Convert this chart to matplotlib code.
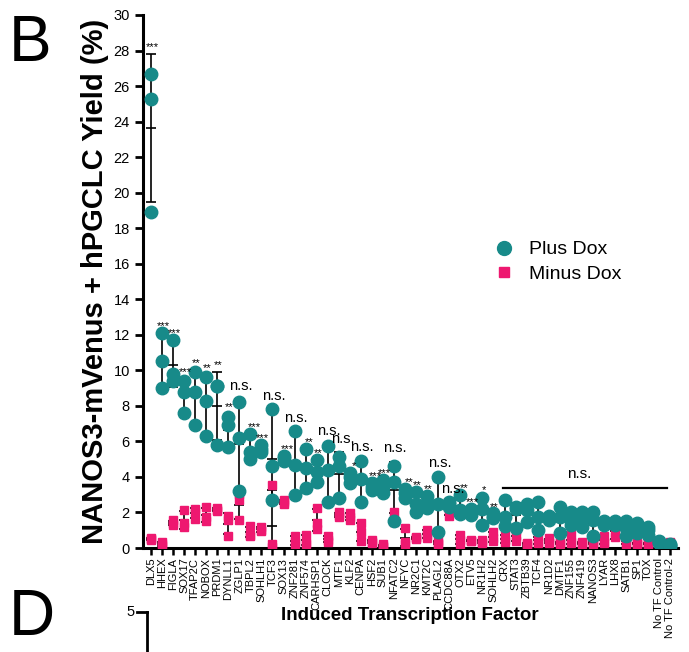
import numpy as np
import matplotlib.pyplot as plt
from matplotlib.lines import Line2D

plt.rcParams['font.family'] = ['Liberation Sans', 'DejaVu Sans']

factors = ['DLX5', 'HHEX', 'FIGLA', 'SOX17', 'TFAP2C', 'NOBOX', 'PRDM1', 'DYNLL1',
           'ZGLP1', 'TBPL2', 'SOHLH1', 'TCF3', 'SOX13', 'ZNF281', 'ZNF574', 'CARHSP1',
           'CLOCK', 'MTF1', 'KLF2', 'CENPA', 'HSF2', 'SUB1', 'NFATC2', 'NFYC',
           'NR2C1', 'KMT2C', 'PLAGL2', 'CCDC88A', 'OTX2', 'ETV5', 'NR1H2', 'SOHLH2',
           'CRX', 'STAT3', 'ZBTB39', 'TCF4', 'NR1D2', 'DMTF1', 'ZNF155', 'ZNF419',
           'NANOS3', 'LYAR', 'LHX8', 'SATB1', 'SP1', 'TOX', 'No TF Control',
           'No TF Control-2']

# three replicates per factor
plus_dox = [
    [26.7, 25.3, 18.9], [12.1, 10.5, 9.0], [11.7, 9.8, 9.4], [9.4, 8.8, 7.6],
    [9.9, 8.8, 6.9], [9.6, 8.3, 6.3], [9.1, 9.1, 5.8], [7.4, 6.9, 5.7],
    [8.2, 6.2, 3.2], [6.4, 5.4, 5.0], [5.8, 5.6, 5.4], [7.8, 4.6, 2.7],
    [5.2, 5.05, 4.9], [6.6, 4.7, 3.0], [5.6, 4.5, 3.4], [4.95, 4.25, 3.7],
    [5.75, 4.4, 2.6], [5.15, 4.6, 2.8], [4.2, 4.0, 3.65], [4.9, 3.9, 2.6],
    [3.65, 3.45, 3.25], [3.85, 3.45, 3.1], [4.6, 3.7, 1.5], [3.3, 3.1, 2.8],
    [3.15, 2.5, 2.05], [2.9, 2.6, 2.25], [4.0, 2.5, 0.9], [2.6, 2.45, 2.3],
    [3.0, 2.15, 1.9], [2.2, 2.05, 1.85], [2.8, 2.2, 1.3], [1.95, 1.8, 1.7],
    [2.7, 1.75, 1.25], [2.3, 2.2, 1.1], [2.5, 2.15, 1.45], [2.6, 1.75, 1.0],
    [1.8, 1.7, 1.55], [2.3, 1.75, 0.85], [2.05, 1.5, 1.3], [2.0, 1.75, 1.2],
    [2.0, 1.6, 0.65], [1.5, 1.4, 1.3], [1.5, 1.4, 1.3], [1.5, 1.1, 0.65],
    [1.4, 1.2, 0.85], [1.2, 1.0, 0.75], [0.4, 0.35, 0.3], [0.2, 0.15, 0.1],
]

minus_dox = [
    [0.55, 0.5, 0.45], [0.35, 0.2, 0.1], [1.55, 1.4, 1.3], [2.15, 1.4, 1.2],
    [2.2, 2.1, 1.65], [2.3, 1.75, 1.5], [2.25, 2.15, 2.1], [1.8, 1.6, 0.7],
    [3.05, 2.7, 1.55], [1.25, 0.75, 0.7], [1.2, 1.0, 0.95], [3.55, 0.2, 0.05],
    [2.7, 2.6, 2.5], [0.7, 0.35, 0.2], [0.75, 0.3, 0.25], [2.25, 1.4, 1.05],
    [0.7, 0.45, 0.35], [2.0, 1.85, 1.75], [1.95, 1.75, 1.6], [1.4, 0.9, 0.4],
    [0.45, 0.35, 0.3], [0.2, 0.1, 0.05], [2.0, 1.5, 1.45], [1.15, 0.35, 0.25],
    [0.6, 0.55, 0.5], [1.0, 0.75, 0.55], [0.4, 0.3, 0.25], [2.35, 2.2, 1.8],
    [0.75, 0.45, 0.25], [0.45, 0.4, 0.4], [0.45, 0.35, 0.3], [0.9, 0.55, 0.4],
    [0.75, 0.45, 0.35], [1.0, 0.7, 0.4], [0.3, 0.2, 0.15], [0.65, 0.35, 0.3],
    [0.55, 0.35, 0.3], [0.35, 0.3, 0.25], [0.75, 0.35, 0.3], [0.35, 0.3, 0.25],
    [0.35, 0.3, 0.25], [0.65, 0.35, 0.3], [1.5, 0.85, 0.6], [0.55, 0.3, 0.25],
    [0.3, 0.25, 0.25], [0.3, 0.25, 0.2], [0.35, 0.3, 0.3], [0.35, 0.3, 0.3],
]

# significance marks for the first 32 factors, the rest share one n.s. bracket
sig = ['***', '***', '***', '***', '**', '**', '**', '**', 'n.s.', '***', '***',
       'n.s.', '***', 'n.s.', '**', '**', 'n.s.', 'n.s.', '*', 'n.s.', '***', '***',
       'n.s.', '**', '**', '**', 'n.s.', 'n.s.', '**', '***', '*', '**']

teal = '#178a89'
pink = '#ee1870'

plus = np.array(plus_dox)
minus = np.array(minus_dox)
x = np.arange(len(factors))

fig = plt.figure(figsize=(6.89, 6.52), dpi=100)
ax = fig.add_axes([0.2075, 0.1595, 0.7765, 0.8175])

for data, col, mk, ms in [(minus, pink, 's', 6), (plus, teal, 'o', 9)]:
    mean = data.mean(axis=1)
    sd = data.std(axis=1, ddof=1)
    ax.errorbar(x, mean, yerr=sd, fmt='_', color='black', ms=7, mew=1.2,
                elinewidth=1.2, capsize=3.5, capthick=1.2, zorder=2)
    for k in range(data.shape[1]):
        ax.plot(x, data[:, k], mk, color=col, ms=ms, mec=col, zorder=3)

top = np.maximum(plus.max(axis=1), plus.mean(axis=1) + plus.std(axis=1, ddof=1))
for i, s in enumerate(sig):
    # nudge a mark right when the one before it is a wide n.s.
    dx = 0.35 if (i > 0 and sig[i - 1] == 'n.s.') else 0.1
    if s == 'n.s.':
        ax.text(x[i] + dx, top[i] + 0.35, s, ha='center', va='bottom', fontsize=10.5)
    else:
        ax.text(x[i] + dx, top[i] + 0.1, s, ha='center', va='bottom', fontsize=8)

n0 = len(sig)
ax.plot([x[n0] - 0.1, x[-1] - 0.3], [3.36, 3.36], color='black', lw=1.6)
ax.text((x[n0] + x[-1]) / 2 - 0.7, 3.75, 'n.s.', ha='center', va='bottom',
        fontsize=11)

ax.set_xlim(-0.72, 47.7)
ax.set_ylim(0, 30)
ax.set_yticks(np.arange(0, 31, 2))
ax.set_xticks(x)
ax.set_xticklabels(factors, rotation=90, fontsize=8.0)
ax.tick_params(axis='y', labelsize=10.5, length=6, width=2)
ax.tick_params(axis='x', length=5, width=1.8, pad=2)
for side in ['top', 'right']:
    ax.spines[side].set_visible(False)
for side in ['left', 'bottom']:
    ax.spines[side].set_linewidth(2.2)

ax.set_ylabel('NANOS3-mVenus + hPGCLC Yield (%)', fontsize=21,
              fontweight='bold', labelpad=3)

handles = [Line2D([], [], marker='o', ls='', color=teal, ms=10, label='Plus Dox'),
           Line2D([], [], marker='s', ls='', color=pink, ms=6.5, label='Minus Dox')]
ax.legend(handles=handles, loc='center left', bbox_to_anchor=(0.62, 0.537),
          frameon=False, fontsize=14, handletextpad=0.3, labelspacing=0.35,
          borderpad=0)

fig.text(0.595, 0.056, 'Induced Transcription Factor', ha='center', va='center',
         fontsize=13.5, fontweight='bold')
fig.text(0.012, 0.978, 'B', ha='left', va='top', fontsize=46)
fig.text(0.012, 0.098, 'D', ha='left', va='top', fontsize=46)

# edge of the next panel
fig.text(0.195, 0.061, '5', ha='right', va='center', fontsize=10.5)
fig.add_artist(Line2D([0.199, 0.213], [0.061, 0.061], color='black', lw=2))
fig.add_artist(Line2D([0.213, 0.213], [0.0, 0.062], color='black', lw=2))

fig.savefig('out.png', dpi=100)
